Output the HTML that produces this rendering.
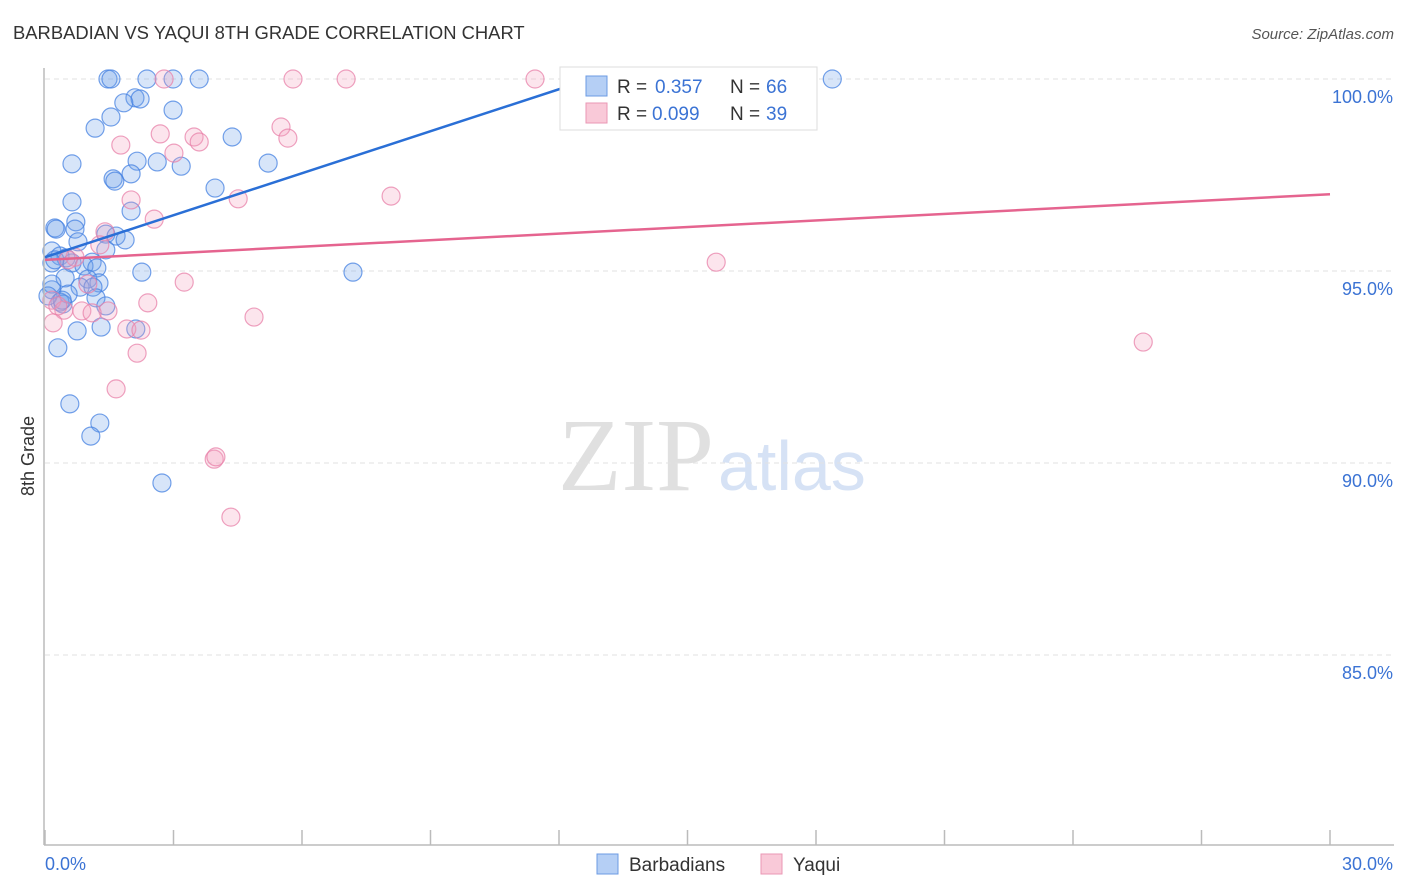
<!DOCTYPE html>
<html><head><meta charset="utf-8"><style>
body{margin:0;background:#fff;font-family:"Liberation Sans",sans-serif;}
svg{display:block}
</style></head><body>
<svg id="c" width="1406" height="892">
<text x="13" y="39" font-size="18.4" fill="#333">BARBADIAN VS YAQUI 8TH GRADE CORRELATION CHART</text>
<text x="1394" y="39" font-size="15" fill="#555" font-style="italic" text-anchor="end">Source: ZipAtlas.com</text>
<text x="714" y="490" font-size="104" fill="#e0e0e0" text-anchor="end" font-family="Liberation Serif,serif">ZIP</text>
<text x="718" y="490" font-size="70" fill="#d6e2f5">atlas</text>
<text transform="translate(34,456) rotate(-90)" font-size="18" fill="#333" text-anchor="middle">8th Grade</text>
<g id="grid"></g><g id="pts"></g><g id="trend"></g>
<line x1="44" y1="68" x2="44" y2="845" stroke="#bbb" stroke-width="1.5"/>
<line x1="44" y1="845" x2="1394" y2="845" stroke="#bbb" stroke-width="1.5"/>
<g id="xt"></g>
<text x="45" y="870" font-size="18" fill="#3b73d4">0.0%</text>
<text x="1393" y="870" font-size="18" fill="#3b73d4" text-anchor="end">30.0%</text>
<g>
<rect x="560" y="67" width="257" height="63" fill="#fff" stroke="#ddd"/>
<rect x="586" y="76" width="21" height="20" fill="#b5cff5" stroke="#6c9be3"/>
<text x="617" y="93" font-size="19" fill="#333">R =</text>
<text x="655" y="93" font-size="19" fill="#3b73d4">0.357</text>
<text x="730" y="93" font-size="19" fill="#333">N =</text>
<text x="766" y="93" font-size="19" fill="#3b73d4">66</text>
<rect x="586" y="103" width="21" height="20" fill="#f9c9d8" stroke="#ea97b4"/>
<text x="617" y="120" font-size="19" fill="#333">R =</text>
<text x="652" y="120" font-size="19" fill="#3b73d4">0.099</text>
<text x="730" y="120" font-size="19" fill="#333">N =</text>
<text x="766" y="120" font-size="19" fill="#3b73d4">39</text>
</g>
<g>
<rect x="597" y="854" width="21" height="20" fill="#b5cff5" stroke="#6c9be3"/>
<text x="629" y="871" font-size="19" fill="#333">Barbadians</text>
<rect x="761" y="854" width="21" height="20" fill="#f9c9d8" stroke="#ea97b4"/>
<text x="793" y="871" font-size="19" fill="#333">Yaqui</text>
</g>
</svg>
<script>
const yTicks=[100,95,90,85];
const yTickLabels=["100.0%","95.0%","90.0%","85.0%"];
const xTicks=[0,3,6,9,12,15,18,21,24,27,30];
const blueX=[1.47,1.54,2.38,2.99,3.60,18.38,2.10,2.22,1.84,2.99,1.54,1.17,4.37,0.63,2.15,2.62,3.18,5.21,1.59,1.63,2.01,3.97,0.63,2.01,0.23,0.72,0.26,0.70,1.42,1.66,1.87,0.77,1.42,0.16,0.35,0.49,1.10,0.16,0.63,0.91,1.21,2.26,7.19,0.47,1.00,1.26,0.82,1.12,0.16,0.54,1.19,0.35,0.42,1.42,2.12,1.31,0.75,0.30,0.58,1.28,1.07,2.73,0.16,0.07,0.23,0.40];
const blueY=[100,100,100,100,100,100,99.51,99.48,99.38,99.19,99.01,98.72,98.49,97.79,97.86,97.84,97.73,97.81,97.40,97.34,97.53,97.16,96.80,96.56,96.12,96.28,96.09,96.09,95.96,95.91,95.81,95.76,95.55,95.52,95.39,95.34,95.23,95.21,95.21,95.13,95.08,94.97,94.97,94.82,94.79,94.69,94.58,94.58,94.51,94.40,94.30,94.19,94.14,94.09,93.49,93.54,93.44,93.00,91.54,91.04,90.70,89.48,94.66,94.35,95.29,94.24];
const pinkX=[2.78,5.79,7.03,11.44,2.69,5.51,5.67,3.48,3.60,1.77,3.01,8.08,4.51,2.01,2.55,1.40,1.28,0.70,0.54,15.67,3.25,1.00,0.16,0.44,0.30,0.86,1.47,2.40,1.91,2.24,1.10,4.88,2.15,0.19,1.66,3.95,3.99,4.34,25.64];
const pinkY=[100,100,100,100,98.57,98.75,98.46,98.49,98.36,98.28,98.07,96.95,96.88,96.85,96.35,96.02,95.68,95.36,95.29,95.23,94.71,94.66,94.24,93.98,94.09,93.96,93.96,94.17,93.49,93.46,93.91,93.80,92.86,93.65,91.93,90.10,90.16,88.59,93.15];
const blueTrendX=[0,12.73], blueTrendY=[95.36,100];
const pinkTrendX=[0,30], pinkTrendY=[95.29,97.0];
const NS="http://www.w3.org/2000/svg";
const sx=v=>45+v/30*1285, sy=v=>79+(100-v)*38.4;
function mk(t,a,p){const e=document.createElementNS(NS,t);for(const k in a)e.setAttribute(k,a[k]);document.getElementById(p).appendChild(e);return e;}
yTicks.forEach((v,i)=>{
 const l=mk('line',{x1:45,x2:1394,y1:sy(v),y2:sy(v),stroke:'#e2e2e2','stroke-dasharray':'5,4'},'grid');
 
 
 const t=mk('text',{x:1393,y:sy(v)+24,'font-size':18,fill:'#3b73d4','text-anchor':'end'},'grid');
 t.textContent=yTickLabels[i];
 
 
});
xTicks.forEach(v=>{
 const l=mk('line',{x1:sx(v),x2:sx(v),y1:830,y2:845,stroke:'#bbb','stroke-width':1.5},'xt');
 
 
});
function pts(X,Y,f,s,n){X.forEach((x,i)=>{
 const c=mk('circle',{cx:sx(x),cy:sy(Y[i]),r:9,fill:f,stroke:s,'stroke-width':1.2},'pts');
 
 
});}
pts(blueX,blueY,'rgba(110,160,235,0.28)','rgba(70,130,225,0.75)','barbadian-point');
pts(pinkX,pinkY,'rgba(245,160,190,0.28)','rgba(232,130,170,0.75)','yaqui-point');
const b=mk('line',{x1:sx(blueTrendX[0]),y1:sy(blueTrendY[0]),x2:sx(blueTrendX[1]),y2:sy(blueTrendY[1]),stroke:'#2a6fd6','stroke-width':2.5},'trend');


const p=mk('line',{x1:sx(pinkTrendX[0]),y1:sy(pinkTrendY[0]),x2:sx(pinkTrendX[1]),y2:sy(pinkTrendY[1]),stroke:'#e5648f','stroke-width':2.5},'trend');


</script>
</body></html>
